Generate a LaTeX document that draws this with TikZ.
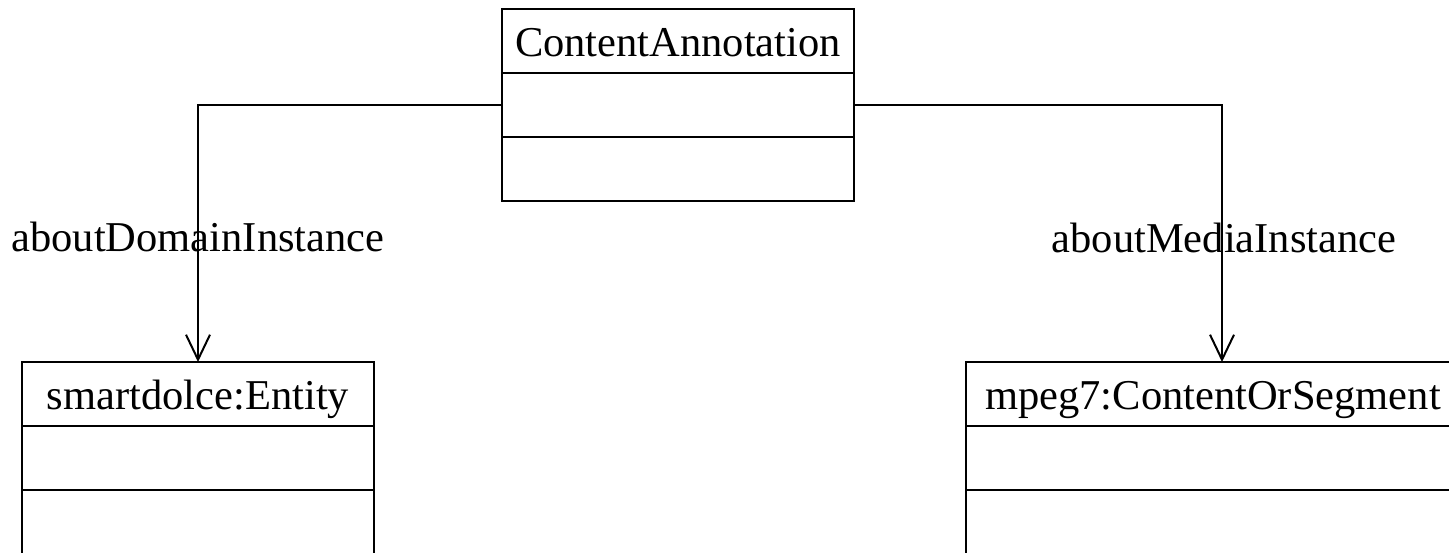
\documentclass[tikz,border=0pt]{standalone}
\usepackage{fontspec}
\setmainfont{Liberation Serif}
\usetikzlibrary{positioning,arrows.meta}

\begin{document}
\begin{tikzpicture}[x=0.5pt,y=-0.5pt,
  every node/.style={font=\fontsize{21.25pt}{25pt}\selectfont},
  classname/.style={draw,line width=1pt,minimum width=176pt,minimum height=32pt,
    inner sep=0pt,outer sep=0pt,text height=15pt,text depth=0pt,anchor=north west},
  classpart/.style={draw,line width=1pt,minimum width=176pt,minimum height=32pt,
    inner sep=0pt,outer sep=0pt},
  assoc/.style={line width=1pt,-{Straight Barb[length=12.5pt,width=12pt]}},
  rolename/.style={anchor=base}]
\useasboundingbox (0,0) rectangle (1449,552);

% classes
\node[classname] (ca) at (502,9) {ContentAnnotation};
\node[classpart,below=0pt of ca] (ca-attr) {};
\node[classpart,below=0pt of ca-attr] (ca-ops) {};

\node[classname] (ent) at (22,362) {smartdolce:Entity};
\node[classpart,below=0pt of ent] (ent-attr) {};
\node[classpart,below=0pt of ent-attr] (ent-ops) {};

\node[classname,minimum width=247pt] (seg) at (966,362) {mpeg7:ContentOrSegment};
\node[classpart,minimum width=247pt,below=0pt of seg] (seg-attr) {};
\node[classpart,minimum width=247pt,below=0pt of seg-attr] (seg-ops) {};

% associations
\draw[assoc] (ca-attr.west) -| (ent.north);
\draw[assoc] (ca-attr.east) -| ([xshift=4.5pt]seg.north);
\node[rolename] (dom-role) at (198,251) {aboutDomainInstance};
\node[rolename] (media-role) at (1224,252) {aboutMediaInstance};
\end{tikzpicture}
\end{document}
